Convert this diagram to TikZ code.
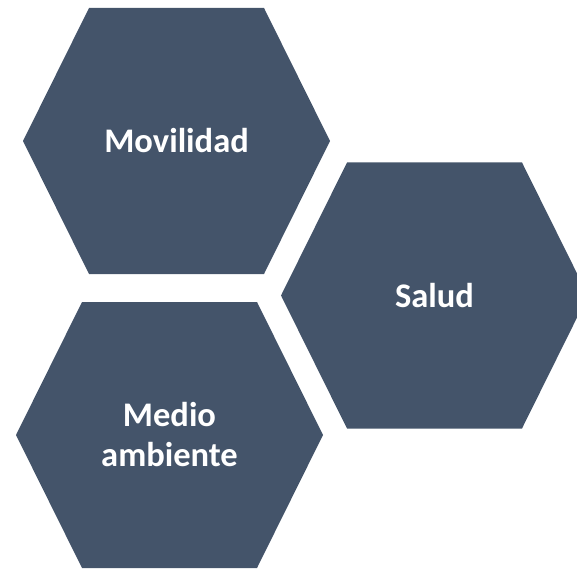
\documentclass[tikz,border=0pt]{standalone}
\usepackage{fontspec}
\setmainfont{Carlito}
\definecolor{slate}{HTML}{44546A}

\begin{document}
\begin{tikzpicture}[x = 1pt, y = 1pt, font = \fontsize{34.5}{40}\selectfont\bfseries,
            label/.style = {text = white, align = center}]
            \useasboundingbox (0,0) rectangle (577,568);
            
            \foreach \x/\y in {176.5/427, 434.5/272.5, 169.5/133}
                \fill [slate, shift = {(\x,\y)}] (-153.5,0) -- (-87.5,133) -- (87.5,133) -- (153.5,0) -- (87.5,-133) -- (-87.5,-133) -- cycle;
            
            \node [label] (movilidad) at (176.5,427) {Movilidad};
            \node [label] (salud) at (434.5,272.5) {Salud};
            \node [label] (medio) at (169.5,133) {Medio\\ambiente};
        \end{tikzpicture}
\end{document}
